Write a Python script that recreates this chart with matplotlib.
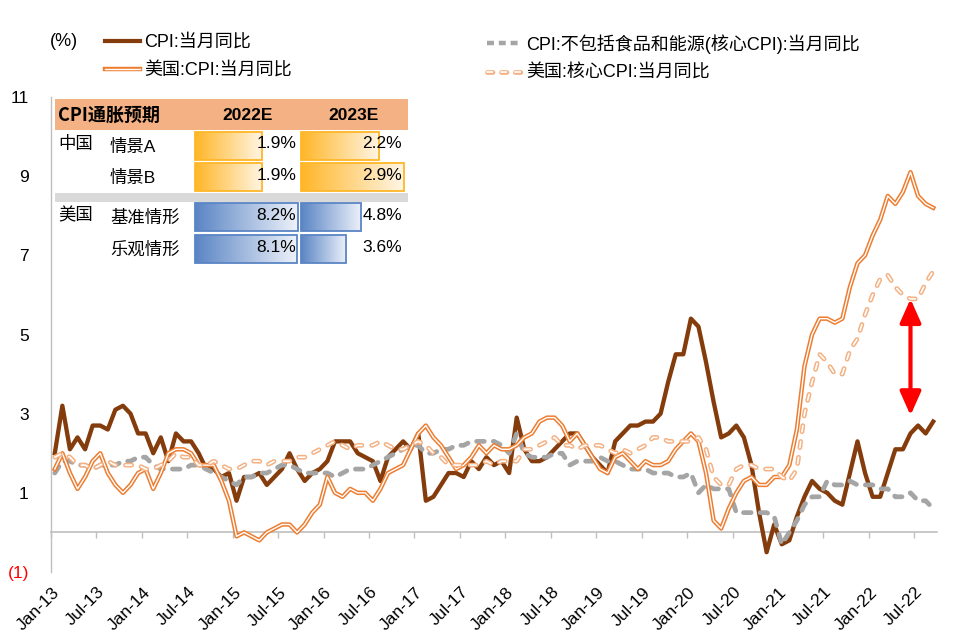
import matplotlib.pyplot as plt
import matplotlib.transforms as mtransforms
from matplotlib.lines import Line2D
from matplotlib.patches import Rectangle
from matplotlib.colors import LinearSegmentedColormap
import numpy as np
import pandas as pd

plt.rcParams['font.family'] = ['Liberation Sans', 'Noto Sans CJK SC']
plt.rcParams['lines.scale_dashes'] = False
plt.rcParams['axes.unicode_minus'] = False

# 月度数据: 2013-01 ~ 2022-09
months = pd.date_range('2013-01-01', '2022-09-01', freq='MS')
tick_labels = [m.strftime('%b-%y') for m in months[::6]]

# 中国 CPI:当月同比
cn_cpi = [
    2.0, 3.2, 2.1, 2.4, 2.1, 2.7, 2.7, 2.6, 3.1, 3.2, 3.0, 2.5,
    2.5, 2.0, 2.4, 1.8, 2.5, 2.3, 2.3, 2.0, 1.6, 1.6, 1.4, 1.5,
    0.8, 1.4, 1.4, 1.5, 1.2, 1.4, 1.6, 2.0, 1.6, 1.3, 1.5, 1.6,
    1.8, 2.3, 2.3, 2.3, 2.0, 1.9, 1.8, 1.3, 1.9, 2.1, 2.3, 2.1,
    2.5, 0.8, 0.9, 1.2, 1.5, 1.5, 1.4, 1.8, 1.6, 1.9, 1.7, 1.8,
    1.5, 2.9, 2.1, 1.8, 1.8, 1.9, 2.1, 2.3, 2.5, 2.5, 2.2, 1.9,
    1.7, 1.5, 2.3, 2.5, 2.7, 2.7, 2.8, 2.8, 3.0, 3.8, 4.5, 4.5,
    5.4, 5.2, 4.3, 3.3, 2.4, 2.5, 2.7, 2.4, 1.7, 0.5, -0.5, 0.2,
    -0.3, -0.2, 0.4, 0.9, 1.3, 1.1, 1.0, 0.8, 0.7, 1.5, 2.3, 1.5,
    0.9, 0.9, 1.5, 2.1, 2.1, 2.5, 2.7, 2.5, 2.8,
]

# 中国 核心CPI
cn_core = [
    1.5, 1.8, 1.8, 1.7, 1.7, 1.6, 1.7, 1.7, 1.7, 1.8, 1.8, 1.9,
    1.9, 1.7, 1.6, 1.6, 1.6, 1.6, 1.7, 1.7, 1.6, 1.5, 1.4, 1.3,
    1.2, 1.4, 1.4, 1.5, 1.5, 1.6, 1.7, 1.7, 1.6, 1.5, 1.5, 1.5,
    1.5, 1.4, 1.5, 1.6, 1.6, 1.6, 1.7, 1.8, 1.9, 2.0, 2.1, 2.2,
    2.2, 2.0, 2.0, 2.1, 2.1, 2.2, 2.2, 2.3, 2.3, 2.3, 2.3, 2.2,
    2.0, 2.5, 2.0, 1.9, 1.9, 1.9, 2.0, 2.0, 1.7, 1.8, 1.8, 1.8,
    1.9, 1.8, 1.8, 1.7, 1.6, 1.6, 1.6, 1.5, 1.5, 1.5, 1.4, 1.4,
    1.5, 1.0, 1.2, 1.1, 1.1, 1.1, 0.5, 0.5, 0.5, 0.5, 0.5, 0.4,
    -0.3, 0.0, 0.3, 0.7, 0.9, 0.9, 1.3, 1.2, 1.2, 1.3, 1.2, 1.2,
    1.2, 1.1, 1.1, 0.9, 0.9, 1.0, 0.8, 0.8, 0.6,
]

# 美国 CPI
us_cpi = [
    1.6, 2.0, 1.5, 1.1, 1.4, 1.8, 2.0, 1.5, 1.2, 1.0, 1.2, 1.5,
    1.6, 1.1, 1.5, 2.0, 2.1, 2.1, 2.0, 1.7, 1.7, 1.7, 1.3, 0.8,
    -0.1, 0.0, -0.1, -0.2, 0.0, 0.1, 0.2, 0.2, 0.0, 0.2, 0.5, 0.7,
    1.4, 1.0, 0.9, 1.1, 1.0, 1.0, 0.8, 1.1, 1.5, 1.6, 1.7, 2.1,
    2.5, 2.7, 2.4, 2.2, 1.9, 1.6, 1.7, 1.9, 2.2, 2.0, 2.2, 2.1,
    2.1, 2.2, 2.4, 2.5, 2.8, 2.9, 2.9, 2.7, 2.3, 2.5, 2.2, 1.9,
    1.6, 1.5, 1.9, 2.0, 1.8, 1.6, 1.8, 1.7, 1.7, 1.8, 2.1, 2.3,
    2.5, 2.3, 1.5, 0.3, 0.1, 0.6, 1.0, 1.3, 1.4, 1.2, 1.2, 1.4,
    1.4, 1.7, 2.6, 4.2, 5.0, 5.4, 5.4, 5.3, 5.4, 6.2, 6.8, 7.0,
    7.5, 7.9, 8.5, 8.3, 8.6, 9.1, 8.5, 8.3, 8.2,
]

# 美国 核心CPI
us_core = [
    1.9, 2.0, 1.9, 1.7, 1.7, 1.6, 1.7, 1.8, 1.7, 1.7, 1.7, 1.7,
    1.6, 1.6, 1.7, 1.8, 2.0, 1.9, 1.9, 1.7, 1.7, 1.8, 1.7, 1.6,
    1.6, 1.7, 1.8, 1.8, 1.7, 1.8, 1.8, 1.8, 1.9, 1.9, 2.0, 2.1,
    2.2, 2.3, 2.2, 2.1, 2.2, 2.2, 2.2, 2.3, 2.2, 2.1, 2.1, 2.2,
    2.3, 2.2, 2.0, 1.9, 1.7, 1.7, 1.7, 1.7, 1.7, 1.8, 1.7, 1.8,
    1.8, 1.8, 2.1, 2.1, 2.2, 2.3, 2.4, 2.2, 2.2, 2.1, 2.2, 2.2,
    2.2, 2.1, 2.0, 2.1, 2.0, 2.1, 2.2, 2.4, 2.4, 2.3, 2.3, 2.3,
    2.3, 2.4, 2.1, 1.4, 1.2, 1.2, 1.6, 1.7, 1.7, 1.6, 1.6, 1.6,
    1.4, 1.3, 1.6, 3.0, 3.8, 4.5, 4.3, 4.0, 4.0, 4.6, 4.9, 5.5,
    6.0, 6.4, 6.5, 6.2, 6.0, 5.9, 5.9, 6.3, 6.6,
]

series_names = ['CPI:当月同比', 'CPI:不包括食品和能源(核心CPI):当月同比',
                '美国:CPI:当月同比', '美国:核心CPI:当月同比']

# 通胀预期表
table_title = 'CPI通胀预期'
table_cols = ['2022E', '2023E']
table_groups = ['中国', '美国']
table_rows = ['情景A', '情景B', '基准情形', '乐观情形']
table_vals = [[1.9, 2.2], [1.9, 2.9], [8.2, 4.8], [8.1, 3.6]]

gap_month = '2022-06'

BROWN = '#843C0C'
GREY = '#A5A5A5'
ORANGE = '#ED7D31'
PEACH = '#F4B183'
AXIS_GREY = '#BFBFBF'

W, H = 966, 638
fig = plt.figure(figsize=(W / 100, H / 100), dpi=100)
ax = fig.add_axes([51 / W, 1 - 572 / H, (937 - 51) / W, (572 - 97) / H])

x = np.arange(len(months))
ax.plot(x, cn_cpi, color=BROWN, lw=3.1, solid_joinstyle='round', zorder=3)
ax.plot(x, cn_core, color=GREY, lw=3.4, dashes=(5.5, 6.5), dash_capstyle='round', zorder=4)
ax.plot(x, us_cpi, color=ORANGE, lw=3.2, solid_joinstyle='round', zorder=5)
ax.plot(x, us_cpi, color='white', lw=1.0, solid_joinstyle='round', zorder=5)
ax.plot(x, us_core, color=PEACH, lw=3.4, dashes=(4.5, 7), dash_capstyle='round', zorder=6)
ax.plot(x, us_core, color='white', lw=1.2, dashes=(4.5, 7), dash_capstyle='round', zorder=6)

# 中美通胀差
gi = list(months.strftime('%Y-%m')).index(gap_month)
ax.annotate('', xy=(gi, us_core[gi]), xytext=(gi, cn_cpi[gi]),
            arrowprops=dict(arrowstyle='<|-|>,head_length=0.9,head_width=0.4',
                            color='#FF0000', lw=3, mutation_scale=16,
                            shrinkA=13, shrinkB=0),
            zorder=8)

ax.set_xlim(-0.5, len(months) - 0.5)
ax.set_ylim(-1, 11)
ax.set_yticks([-1, 1, 3, 5, 7, 9, 11])
ax.set_yticklabels(['(1)', '1', '3', '5', '7', '9', '11'])
ax.get_yticklabels()[0].set_color('#FF0000')
ax.tick_params(axis='y', length=0, pad=16, labelsize=12.5)

ax.set_xticks(x[::6])
ax.set_xticklabels(tick_labels, rotation=45, ha='right', va='top',
                   rotation_mode='anchor', fontsize=12.5)
ax.tick_params(axis='x', length=0, pad=9)
shift = mtransforms.ScaledTranslation(-3 / 100, 0, fig.dpi_scale_trans)
for lab in ax.get_xticklabels():
    lab.set_transform(lab.get_transform() + shift)

for s in ['top', 'right', 'bottom']:
    ax.spines[s].set_visible(False)
ax.spines['left'].set_color(AXIS_GREY)
ax.spines['left'].set_linewidth(1)

# 零轴 + 刻度
zero_loc = (0 - ax.get_ylim()[0]) / (ax.get_ylim()[1] - ax.get_ylim()[0])
sec = ax.secondary_xaxis(zero_loc)
sec.set_xticks(np.arange(-0.5, len(months) - 1, 6))
sec.set_xticklabels([])
sec.tick_params(axis='x', direction='out', length=4, width=1, color=AXIS_GREY)
sec.spines['bottom'].set_color(AXIS_GREY)
sec.spines['bottom'].set_linewidth(1.2)

# 图例
h_brown = Line2D([], [], color=BROWN, lw=3)
h_grey = Line2D([], [], color=GREY, lw=3.2, dashes=(5, 3.5))
h_orange = (Line2D([], [], color=ORANGE, lw=3.2), Line2D([], [], color='white', lw=1.0))
h_peach = (Line2D([], [], color=PEACH, lw=3.4, dashes=(4, 6), dash_capstyle='round'),
           Line2D([], [], color='white', lw=1.2, dashes=(4, 6), dash_capstyle='round'))
leg_kw = dict(loc='upper left', frameon=False, fontsize=13, borderpad=0,
              handlelength=1.95, handletextpad=0.2, labelspacing=0.62,
              borderaxespad=0)
fig.legend([h_brown, h_orange], [series_names[0], series_names[2]],
           bbox_to_anchor=(105 / W, 1 - 34 / H), **leg_kw)
fig.legend([h_grey, h_peach], [series_names[1], series_names[3]],
           bbox_to_anchor=(487 / W, 1 - 34 / H), **leg_kw)

# 叠加层: 单位 + 表格 (像素坐标)
ov = fig.add_axes([0, 0, 1, 1], zorder=5)
ov.axis('off')
ov.text(50, 42, '(%)', fontsize=13, va='center')

tx0, tx1 = 55, 408
col_x = [195, 301]
col_w = 105
row_top = [132, 163, 203, 235]
row_h = 28
ov.add_patch(Rectangle((tx0, 99), tx1 - tx0, 31, color=PEACH, lw=0))
ov.text(58, 115, table_title, fontsize=13, weight='bold', va='center',
        family=['Noto Sans CJK SC'])
for j, c in enumerate(table_cols):
    ov.text(col_x[j] + col_w / 2, 115, c, ha='center', va='center',
            weight='bold', fontsize=12.5)
ov.add_patch(Rectangle((tx0, 193), tx1 - tx0, 9, color='#D9D9D9', lw=0))

bar_styles = [
    (LinearSegmentedColormap.from_list('o', ['#FFB628', '#FFF6E6']), '#FFB628'),
    (LinearSegmentedColormap.from_list('b', ['#5A85C4', '#EEF2FA']), '#5A85C4'),
]
grad = np.linspace(0, 1, 256)[None, :]
for i, (name, vals) in enumerate(zip(table_rows, table_vals)):
    g = i // 2
    block_max = max(max(v) for v in table_vals[2 * g:2 * g + 2])
    cmap, edge = bar_styles[g]
    y0 = row_top[i]
    for j, v in enumerate(vals):
        w = (col_w - 2) * v / block_max
        ov.imshow(grad, cmap=cmap, extent=(col_x[j], col_x[j] + w, y0 + row_h, y0),
                  aspect='auto', interpolation='bilinear')
        ov.add_patch(Rectangle((col_x[j], y0), w, row_h, fill=False,
                               edgecolor=edge, lw=1.3))
        ov.text(col_x[j] + col_w - 4, y0 + 12, f'{v:.1f}%', ha='right',
                va='center', fontsize=12.5)
    ov.text(110, y0 + 15, name, va='center', fontsize=12.5)
for g, gname in enumerate(table_groups):
    ov.text(58, row_top[2 * g] + 12, gname, va='center', fontsize=12.5)

ov.set_xlim(0, W)
ov.set_ylim(H, 0)

fig.savefig('out.png', dpi=100)
